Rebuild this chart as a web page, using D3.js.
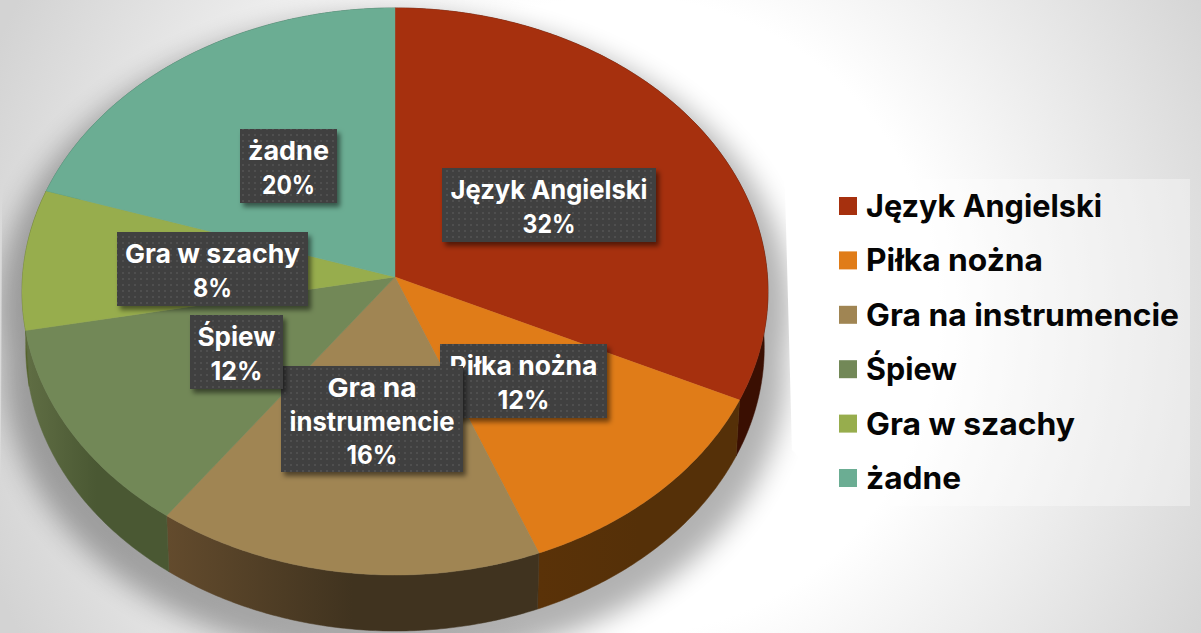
<!DOCTYPE html>
<html lang="pl">
<head>
<meta charset="utf-8">
<script src="https://cdnjs.cloudflare.com/ajax/libs/d3/7.8.5/d3.min.js"></script>
<style>
html,body{margin:0;padding:0;background:#fff;overflow:hidden}
svg{display:block}
text{font-family:Inter,Lato,sans-serif;font-weight:700}
</style>
</head>
<body>
<script>
const categories = ["Język Angielski","Piłka nożna","Gra na instrumencie","Śpiew","Gra w szachy","żadne"];
const values = [32,12,16,12,8,20];
const topColors = ["#a6300e","#e07c18","#a08553","#728857","#97ad4d","#6bad93"];
const sideLight = ["#4a1206","#5a3208","#634b2d","#606e44","#5a6a2e","#3f6a58"];
const sideDark  = ["#3a0f02","#553008","#40331f","#4a5833","#4a5826","#345a4a"];
const labelLines = [["Język Angielski"],["Piłka nożna"],["Gra na","instrumencie"],["Śpiew"],["Gra w szachy"],["żadne"]];
const labelBoxes = [[442,168,214,74],[440,344,167,74],[281,366,182,106],[190,315,93,74],[117,232,191,74],[240,129,97,74]];
const labelWidths = [[197,53],[148,52],[89,165,51],[78,52],[175,39],[81,53]];
const legendWidths = [236,177,313,91,209,95];

const W=1201,H=633,cx=395,cy=277,rx=372.5,ry=282.8,persp=0.0511,depth=56,shrink=0.99;

const svg=d3.select("body").append("svg").attr("width",W).attr("height",H);
const defs=svg.append("defs");

const bg=defs.append("radialGradient").attr("id","bg").attr("gradientUnits","userSpaceOnUse")
  .attr("cx",620).attr("cy",316).attr("r",680);
[[0,"#fff"],[.47,"#fff"],[1,"#d3d3d3"]].forEach(s=>bg.append("stop").attr("offset",s[0]).attr("stop-color",s[1]));
svg.append("rect").attr("width",W).attr("height",H).attr("fill","url(#bg)");

const blur=defs.append("filter").attr("id","blur").attr("x","-20%").attr("y","-20%").attr("width","140%").attr("height","140%");
blur.append("feGaussianBlur").attr("stdDeviation",13);
const ds=defs.append("filter").attr("id","ds").attr("x","-20%").attr("y","-20%").attr("width","140%").attr("height","140%");
ds.append("feDropShadow").attr("dx",3).attr("dy",4).attr("stdDeviation",2.5).attr("flood-color","#000").attr("flood-opacity",.5);
const pat=defs.append("pattern").attr("id","dots").attr("patternUnits","userSpaceOnUse").attr("width",6).attr("height",6);
pat.append("rect").attr("width",6).attr("height",6).attr("fill","#404040");
pat.append("rect").attr("x",2).attr("y",2).attr("width",2).attr("height",2).attr("fill","#4f4f4f");
defs.append("clipPath").attr("id","shClip").append("path").attr("d","M3 0L780 0L792 450L1000 633L0 633Z");

const arcs=d3.pie().sort(null).startAngle(0).endAngle(2*Math.PI)(values);
const color=d3.scaleOrdinal().domain(categories).range(topColors);

function project(theta,r=1){
  const u=Math.sin(theta)*r,v=-Math.cos(theta)*r,w=1-persp*v;
  return [cx+rx*u/w,cy+ry*v/w];
}
const lower=p=>[cx+(p[0]-cx)*shrink,p[1]+depth];
const line=d3.line();
const angles=(a,b)=>{const n=Math.max(2,Math.ceil((b-a)/0.01));return d3.range(n+1).map(i=>a+(b-a)*i/n);};
const rim=d=>angles(d.startAngle,d.endAngle).map(t=>project(t));
const topPath=d=>line([[cx,cy],...rim(d)])+"Z";
const sidePath=d=>{const r=rim(d);return line([...r,...r.map(lower).reverse()])+"Z";};

arcs.forEach((d,i)=>{
  const r=rim(d),xs=r.map(p=>p[0]);
  const g=defs.append("linearGradient").attr("id","side"+i).attr("gradientUnits","userSpaceOnUse")
    .attr("x1",d3.min(xs)).attr("x2",d3.max(xs)).attr("y1",0).attr("y2",0);
  g.append("stop").attr("offset",0).attr("stop-color",sideLight[i]);
  g.append("stop").attr("offset",.5).attr("stop-color",sideDark[i]);
  g.append("stop").attr("offset",1).attr("stop-color",sideDark[i]);
});

// shadow
const shadow=svg.append("g").attr("clip-path","url(#shClip)").append("g").attr("filter","url(#blur)").attr("opacity",.3)
  .attr("transform",`translate(${cx} ${cy+18}) scale(1.06 1.04) translate(${-cx} ${-cy})`);
shadow.selectAll("path.a").data(arcs).join("path").attr("class","a").attr("d",topPath).attr("fill","#000");
shadow.selectAll("path.b").data(arcs).join("path").attr("class","b").attr("d",sidePath).attr("fill","#000");

// pie
svg.append("g").selectAll("path").data(arcs).join("path").attr("d",sidePath)
  .attr("fill",(d,i)=>`url(#side${i})`).attr("stroke",(d,i)=>`url(#side${i})`).attr("stroke-width",.5);
svg.append("g").selectAll("path").data(arcs).join("path").attr("d",topPath)
  .attr("fill",(d,i)=>color(categories[i])).attr("stroke",(d,i)=>color(categories[i])).attr("stroke-width",.4);

// labels
const lab=svg.append("g").selectAll("g").data(arcs).join("g");
lab.append("rect").attr("x",(d,i)=>labelBoxes[i][0]).attr("y",(d,i)=>labelBoxes[i][1])
  .attr("width",(d,i)=>labelBoxes[i][2]).attr("height",(d,i)=>labelBoxes[i][3])
  .attr("fill","url(#dots)").attr("filter","url(#ds)");
lab.each(function(d,i){
  const b=labelBoxes[i],sel=d3.select(this);
  const rows=[...labelLines[i],d3.format(".0%")(d.value/d3.sum(values))];
  sel.selectAll("text").data(rows).join("text")
    .attr("x",b[0]+b[2]/2).attr("y",(t,j)=>b[1]+31+j*33.5)
    .attr("text-anchor","middle").attr("font-size",26).attr("fill","#fff")
    .attr("textLength",(t,j)=>labelWidths[i][j]).attr("lengthAdjust","spacingAndGlyphs").text(t=>t);
});

// legend
svg.append("rect").attr("x",824).attr("y",179).attr("width",366).attr("height",327).attr("fill","#fff").attr("fill-opacity",.35);
const ly=d3.scalePoint().domain(categories).range([206,478]);
const leg=svg.append("g").selectAll("g").data(categories).join("g");
leg.append("rect").attr("x",839).attr("y",d=>ly(d)-9).attr("width",18).attr("height",18).attr("fill",d=>color(d));
leg.append("text").attr("x",866).attr("y",d=>ly(d)+11).attr("font-size",31).attr("fill","#050505")
  .attr("textLength",(d,i)=>legendWidths[i]).attr("lengthAdjust","spacingAndGlyphs").text(d=>d);
</script>
</body>
</html>
